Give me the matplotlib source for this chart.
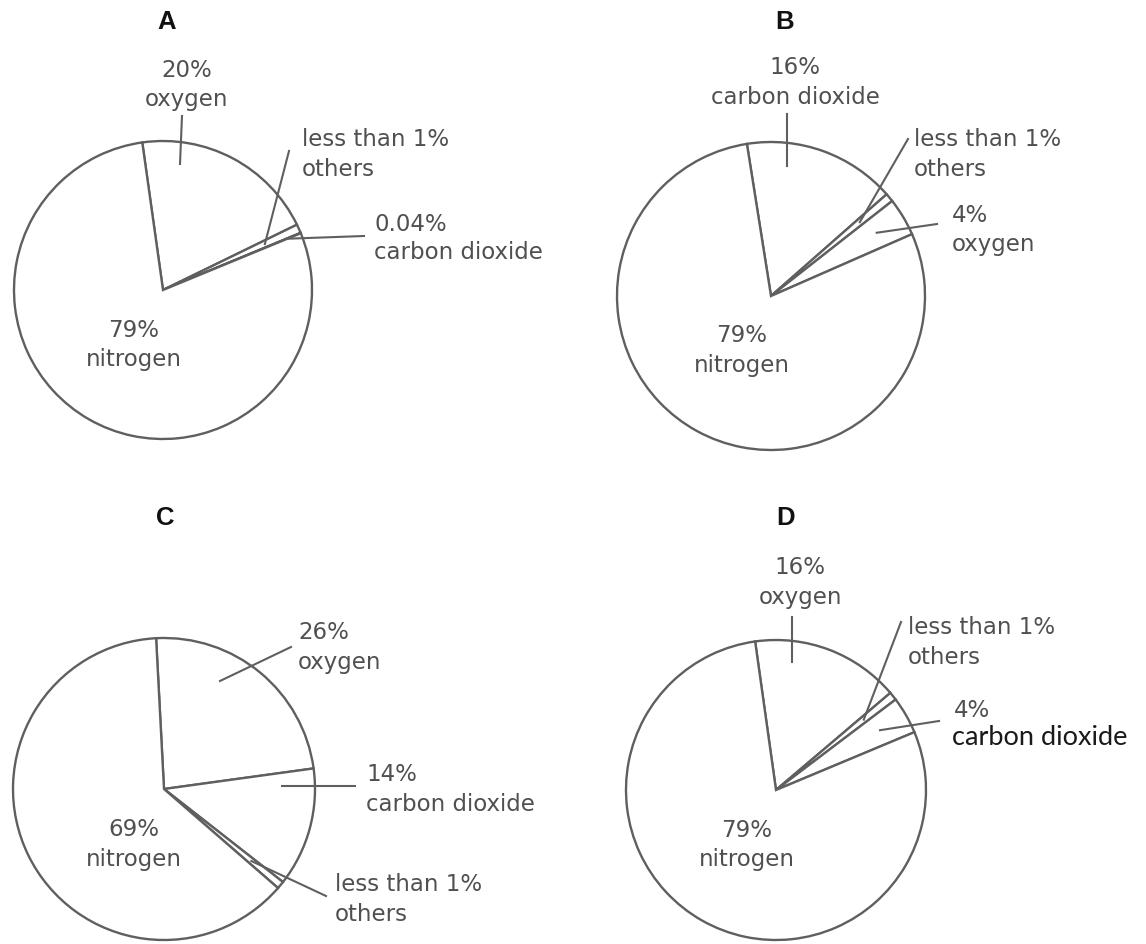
import numpy as np
import matplotlib
matplotlib.use("Agg")
import matplotlib.pyplot as plt

# ---- data -------------------------------------------------------------
panel_titles = ["A", "B", "C", "D"]

gases_A = ["oxygen", "others", "carbon dioxide", "nitrogen"]
values_A = [20, 0.96, 0.04, 79]
pct_A = ["20%", "less than 1%", "0.04%", "79%"]

gases_B = ["carbon dioxide", "others", "oxygen", "nitrogen"]
values_B = [16, 0.9, 4, 79]
pct_B = ["16%", "less than 1%", "4%", "79%"]

gases_C = ["oxygen", "carbon dioxide", "others", "nitrogen"]
values_C = [26, 14, 0.9, 69]
pct_C = ["26%", "14%", "less than 1%", "69%"]

gases_D = ["oxygen", "others", "carbon dioxide", "nitrogen"]
values_D = [16, 0.9, 4, 79]
pct_D = ["16%", "less than 1%", "4%", "79%"]

# ---- layout (figure pixels, measured from the top-left corner) ---------
W, H = 1146, 945
TEXT_GRAY = "#505050"
LINE_GRAY = "#5f5f5f"

pie_boxes = {  # centre x, centre y, radius
    "A": (163, 291, 149),
    "B": (771, 297, 154),
    "C": (164, 790, 151),
    "D": (776, 791, 150),
}
start_angles = {"A": 98, "B": 99, "C": 93, "D": 98}
title_pos = {"A": (167, 22), "B": (785, 22), "C": (165, 518), "D": (786, 518)}

# per wedge: text x, y of value line, y of name line, alignment,
# leader start (pixel point or ("mid", radius fraction)), leader end
label_layout = {
    "A": [
        (187, 68, 97, "center", (180, 165), (182, 117)),
        (302, 137, 167, "left", ("mid", 0.75), (289, 152)),
        (374, 222, 250, "left", ("mid", 0.9), (364, 237)),
        (134, 328, 357, "center", None, None),
    ],
    "B": [
        (795, 65, 95, "center", (787, 167), (787, 115)),
        (914, 137, 167, "left", ("mid", 0.75), (908, 140)),
        (952, 213, 242, "left", ("mid", 0.8), (937, 225)),
        (742, 333, 363, "center", None, None),
    ],
    "C": [
        (298, 630, 660, "left", (220, 682), (291, 648)),
        (366, 772, 802, "left", (282, 787), (355, 787)),
        (335, 882, 912, "left", ("mid", 0.75), (326, 897)),
        (134, 827, 857, "center", None, None),
    ],
    "D": [
        (800, 565, 595, "center", (792, 663), (792, 618)),
        (908, 625, 655, "left", ("mid", 0.75), (901, 623)),
        (954, 708, 735, "left", ("mid", 0.8), (939, 722)),
        (747, 828, 857, "center", None, None),
    ],
}

panels = {
    "A": (gases_A, values_A, pct_A),
    "B": (gases_B, values_B, pct_B),
    "C": (gases_C, values_C, pct_C),
    "D": (gases_D, values_D, pct_D),
}

fig = plt.figure(figsize=(W / 100, H / 100), dpi=100)
fig.patch.set_facecolor("white")


def px(x, y):
    """Figure-pixel position (top-left origin) -> figure fraction."""
    return x / W, 1 - y / H


for key in panel_titles:
    gases, values, pcts = panels[key]
    cx, cy, r = pie_boxes[key]
    left, bottom = px(cx - r, cy + r)
    ax = fig.add_axes([left, bottom, 2 * r / W, 2 * r / H])
    wedges, _ = ax.pie(
        values,
        startangle=start_angles[key],
        counterclock=False,
        radius=1,
        wedgeprops=dict(facecolor="white", edgecolor=LINE_GRAY, linewidth=1.7),
    )
    ax.set_aspect("auto")
    ax.set_xlim(-1.0, 1.0)
    ax.set_ylim(-1.0, 1.0)
    ax.axis("off")

    tx, ty = title_pos[key]
    fig.text(*px(tx, ty), key, ha="center", va="center", fontsize=18.5,
             fontweight="bold", family="Liberation Sans", color="#111111")

    for wedge, gas, pct, lay in zip(wedges, gases, pcts, label_layout[key]):
        x, y1, y2, ha, start, end = lay
        fig.text(*px(x, y1), pct, ha=ha, va="center_baseline", fontsize=16.5,
                 family="DejaVu Sans", color=TEXT_GRAY)
        if key == "D" and gas == "carbon dioxide":
            fig.text(*px(x - 2, y2), gas, ha=ha, va="center_baseline",
                     fontsize=19.5, family="Lato", color="#1a1a1a")
        else:
            fig.text(*px(x, y2), gas, ha=ha, va="center_baseline",
                     fontsize=16.5, family="DejaVu Sans", color=TEXT_GRAY)

        if start is None:
            continue
        if start[0] == "mid":
            mid = np.deg2rad(0.5 * (wedge.theta1 + wedge.theta2))
            xy = (start[1] * np.cos(mid), start[1] * np.sin(mid))
            xy_disp = ax.transData.transform(xy)
            sx, sy = xy_disp[0], xy_disp[1]
        else:
            sx, sy = start[0], H - start[1]
        ex, ey = end[0], H - end[1]
        fig.add_artist(plt.Line2D([sx / W, ex / W], [sy / H, ey / H],
                                  transform=fig.transFigure,
                                  color=LINE_GRAY, linewidth=1.5))

fig.savefig("out.png", dpi=100, facecolor="white")
